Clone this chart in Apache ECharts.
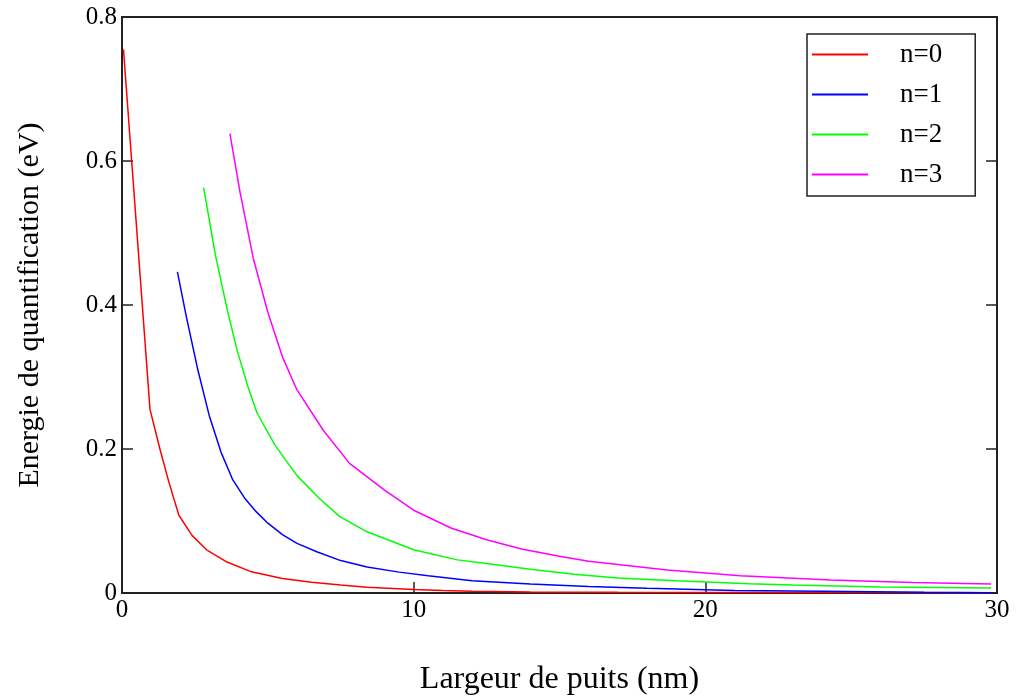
<!DOCTYPE html>
<html>
<head>
<meta charset="utf-8">
<title>Energie de quantification</title>
<script src="https://cdn.jsdelivr.net/npm/echarts@6/dist/echarts.min.js"></script>
<style>
    html, body { margin: 0; padding: 0; background: #fff; }
    #main { width: 1019px; height: 697px; }
</style>
</head>
<body>
<div id="main"></div>
<script>
    // valeurs (largeur en nm, energie en eV)
    var n0L = [0.05, 0.96, 1.3, 1.6, 1.95, 2.4, 2.9, 3.6, 4.4, 5.5, 6.5, 7.5, 8.4, 10.0, 11.0, 12.0, 14.0, 17.0, 20.0, 24.0, 29.8];
    var n0E = [0.755, 0.255, 0.2, 0.155, 0.108, 0.08, 0.06, 0.043, 0.03, 0.02, 0.015, 0.011, 0.008, 0.005, 0.0035, 0.0025, 0.0015, 0.001, 0.0008, 0.0006, 0.0003];

    var n1L = [1.9, 2.2, 2.6, 3.0, 3.4, 3.8, 4.2, 4.6, 5.0, 5.5, 6.0, 6.7, 7.5, 8.4, 9.5, 10.5, 12.0, 14.0, 16.0, 18.0, 21.0, 24.0, 27.5, 29.8];
    var n1E = [0.446, 0.385, 0.31, 0.245, 0.195, 0.157, 0.132, 0.113, 0.097, 0.081, 0.069, 0.057, 0.045, 0.036, 0.029, 0.024, 0.017, 0.0125, 0.009, 0.0065, 0.0035, 0.0025, 0.001, 0.0005];

    var n2L = [2.8, 3.2, 3.6, 3.94, 4.32, 4.63, 5.25, 6.0, 6.75, 7.47, 8.4, 10.0, 11.5, 12.5, 14.0, 15.5, 17.0, 19.0, 21.5, 23.0, 26.0, 29.8];
    var n2E = [0.563, 0.47, 0.395, 0.338, 0.286, 0.25, 0.205, 0.163, 0.132, 0.106, 0.085, 0.06, 0.046, 0.041, 0.033, 0.026, 0.021, 0.017, 0.013, 0.011, 0.0085, 0.007];

    var n3L = [3.7, 4.05, 4.5, 5.0, 5.5, 6.0, 6.9, 7.8, 9.0, 10.0, 11.3, 12.5, 13.7, 15.0, 16.0, 18.7, 21.2, 24.3, 27.1, 29.8];
    var n3E = [0.638, 0.556, 0.465, 0.39, 0.328, 0.282, 0.226, 0.18, 0.143, 0.115, 0.09, 0.074, 0.061, 0.051, 0.044, 0.032, 0.024, 0.018, 0.0145, 0.0125];

    var names = ['n=0', 'n=1', 'n=2', 'n=3'];
    var colors = ['#ff0000', '#0000ff', '#00ff00', '#ff00ff'];

    function pairs(xs, ys) {
        var out = [];
        for (var i = 0; i < xs.length; i++) {
            out.push([xs[i], ys[i]]);
        }
        return out;
    }

    var serif = 'Liberation Serif';
    var myChart = echarts.init(document.getElementById('main'));

    var curves = [pairs(n0L, n0E), pairs(n1L, n1E), pairs(n2L, n2E), pairs(n3L, n3E)];
    var series = [];
    for (var k = 0; k < curves.length; k++) {
        series.push({
            name: names[k],
            type: 'line',
            symbol: 'none',
            data: curves[k],
            lineStyle: { color: colors[k], width: 1.5 },
            itemStyle: { color: colors[k] }
        });
    }

    var option = {
        animation: false,
        backgroundColor: '#fff',
        // pas de recadrage automatique de la grille (v6)
        grid: { left: 122, right: 22, top: 17, bottom: 104, outerBoundsMode: 'none', containLabel: false },
        legend: {
            data: names,
            orient: 'vertical',
            left: 807,
            top: 34,
            padding: [7, 33, 8, 5],
            icon: 'rect',
            itemWidth: 56,
            itemHeight: 2,
            itemGap: 13,
            borderColor: '#222',
            borderWidth: 1.5,
            textStyle: {
                fontFamily: serif,
                fontSize: 27,
                lineHeight: 27,
                color: '#000',
                padding: [0, 0, 0, 27]
            }
        },
        xAxis: {
            type: 'value',
            min: 0,
            max: 30,
            interval: 10,
            name: 'Largeur de puits (nm)',
            nameLocation: 'middle',
            nameGap: 71,
            nameTextStyle: { fontFamily: serif, fontSize: 32, color: '#000' },
            axisLine: { lineStyle: { color: '#222', width: 2 } },
            axisTick: { inside: true, length: 11, lineStyle: { color: '#222', width: 1.5 } },
            axisLabel: { fontFamily: serif, fontSize: 25, color: '#000', margin: 5 },
            splitLine: { show: false }
        },
        yAxis: [{
            type: 'value',
            min: 0,
            max: 0.8,
            interval: 0.2,
            name: 'Energie de quantification (eV)',
            nameLocation: 'middle',
            nameGap: 77,
            nameTextStyle: { fontFamily: serif, fontSize: 30, color: '#000' },
            axisLine: { show: true, lineStyle: { color: '#222', width: 2 } },
            axisTick: { show: true, inside: true, length: 11, lineStyle: { color: '#222', width: 1.5 } },
            axisLabel: { fontFamily: serif, fontSize: 25, color: '#000', margin: 5 },
            splitLine: { show: false }
        }, {
            // bord droit du cadre
            type: 'value',
            position: 'right',
            min: 0,
            max: 0.8,
            interval: 0.2,
            axisLine: { show: true, lineStyle: { color: '#222', width: 2 } },
            axisTick: { show: true, inside: true, length: 11, lineStyle: { color: '#222', width: 1.5 } },
            axisLabel: { show: false },
            splitLine: { show: false }
        }],
        graphic: [{
            // bord haut du cadre
            type: 'rect',
            shape: { x: 122, y: 17, width: 875, height: 576 },
            style: { fill: 'none', stroke: '#222', lineWidth: 2 },
            silent: true,
            z: 1
        }],
        series: series
    };

    myChart.setOption(option);
</script>
</body>
</html>
